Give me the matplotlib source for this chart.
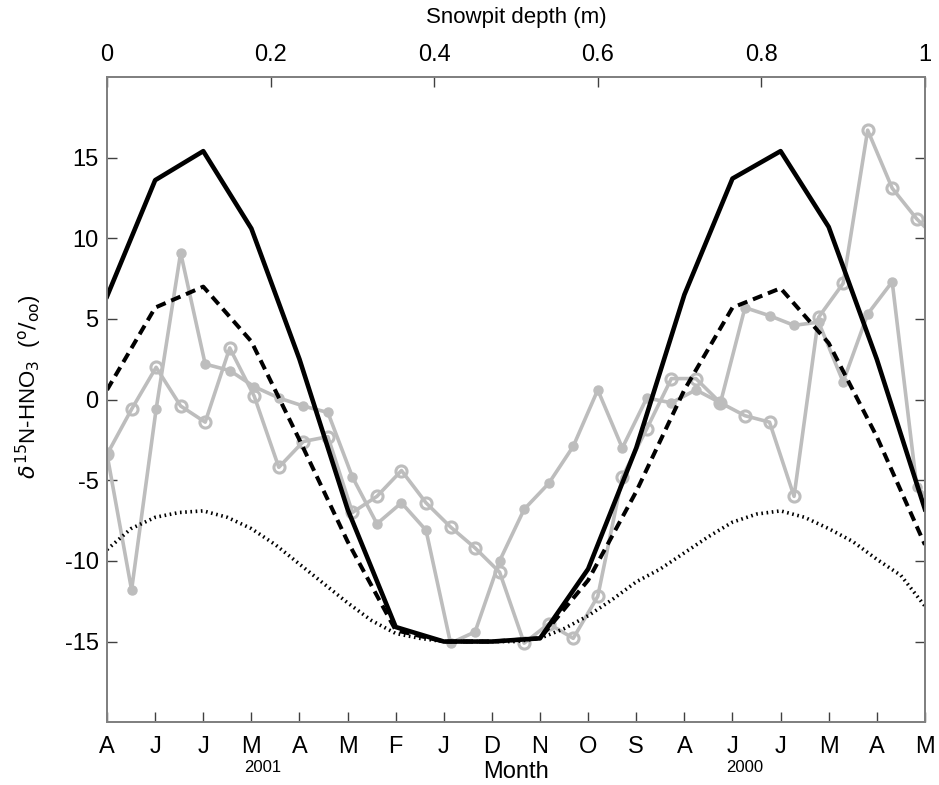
import numpy as np
import matplotlib
matplotlib.use("Agg")
import matplotlib.pyplot as plt

plt.rcParams['font.family'] = ['Liberation Sans', 'DejaVu Sans']

# ---- data ----
month_labels = ['A', 'J', 'J', 'M', 'A', 'M', 'F', 'J', 'D', 'N', 'O', 'S',
                'A', 'J', 'J', 'M', 'A', 'M']
model_solid = [6.4, 13.6, 15.4, 10.6, 2.5, -6.8, -14.1, -15.0, -15.0, -14.8,
               -10.5, -3.0, 6.5, 13.7, 15.4, 10.7, 2.5, -6.8]
model_dashed = [0.6, 5.7, 7.0, 3.6, -2.5, -8.8, -14.3, -15.0, -15.0, -14.8,
                -11.2, -5.7, 0.6, 5.7, 6.9, 3.5, -2.3, -9.0]
model_dotted = [-9.3, -8.0, -7.3, -7.0, -6.9, -7.3, -8.0, -9.0, -10.2, -11.4,
                -12.6, -13.7, -14.5, -14.8, -15.0, -15.0, -15.0, -15.0, -14.8,
                -14.2, -13.4, -12.4, -11.3, -10.5, -9.5, -8.5, -7.6, -7.1,
                -6.9, -7.3, -8.0, -8.8, -9.9, -10.9, -12.8]

depth = [0.00, 0.03, 0.06, 0.09, 0.12, 0.15, 0.18, 0.21, 0.24, 0.27, 0.30,
         0.33, 0.36, 0.39, 0.42, 0.45, 0.48, 0.51, 0.54, 0.57, 0.60, 0.63,
         0.66, 0.69, 0.72, 0.75, 0.78, 0.81, 0.84, 0.87, 0.90, 0.93, 0.96,
         0.99, 1.02]
pit_open = [-3.4, -0.6, 2.0, -0.4, -1.4, 3.2, 0.2, -4.2, -2.6, -2.3, -7.0,
            -6.0, -4.4, -6.4, -7.9, -9.2, -10.7, -15.1, -13.9, -14.8, -12.2,
            -4.8, -1.8, 1.3, 1.3, -0.2, -1.0, -1.4, -6.0, 5.1, 7.2, 16.7,
            13.1, 11.2, 9.7]
pit_filled = [-3.4, -11.8, -0.6, 9.1, 2.2, 1.8, 0.8, 0.1, -0.4, -0.8, -4.8,
              -7.7, -6.4, -8.1, -15.1, -14.4, -10.0, -6.8, -5.2, -2.9, 0.6,
              -3.0, 0.1, -0.2, 0.6, -0.2, 5.7, 5.2, 4.6, 4.8, 1.1, 5.3, 7.3,
              -5.4, -7.0]

y_ticks = [-15, -10, -5, 0, 5, 10, 15]
top_ticks = [0, 0.2, 0.4, 0.6, 0.8, 1.0]
top_labels = ['0', '0.2', '0.4', '0.6', '0.8', '1']

# ---- figure ----
fig = plt.figure(figsize=(9.39, 7.85), dpi=100)
ax = fig.add_axes([0.114, 0.080, 0.871, 0.822])

month_pos = np.linspace(0, 1, len(month_labels))
half_pos = np.linspace(0, 1, len(model_dotted))

gray = '#bdbdbd'
ax.plot(depth, pit_filled, '-o', color=gray, lw=2.6, ms=6.5, mfc=gray,
        mec=gray, zorder=2)
ax.plot(depth, pit_open, '-o', color=gray, lw=2.6, ms=8, mfc='none',
        mec=gray, mew=2.2, zorder=2)

ax.plot(half_pos, model_dotted, color='black', lw=2.6,
        ls=(0, (0.45, 1.0)), zorder=3)
ax.plot(month_pos, model_dashed, color='black', lw=2.9,
        ls=(0, (2.5, 1.5)), zorder=4)
ax.plot(month_pos, model_solid, color='black', lw=3.3, zorder=5)

ax.set_xlim(0, 1)
ax.set_ylim(-20, 20)
ax.set_yticks(y_ticks)
ax.set_yticklabels([str(v) for v in y_ticks], fontsize=17)
ax.set_xticks(month_pos)
ax.set_xticklabels(month_labels, fontsize=17)
ax.tick_params(axis='both', direction='in', length=7, width=1.0,
               color='#404040', right=True)
ax.tick_params(axis='x', pad=10)
ax.tick_params(axis='y', pad=6)

for sp in ax.spines.values():
    sp.set_color('#808080')
    sp.set_linewidth(1.3)

axt = ax.twiny()
axt.set_xlim(0, 1)
axt.set_xticks(top_ticks)
axt.set_xticklabels(top_labels, fontsize=17)
axt.tick_params(axis='x', direction='in', length=7, width=1.0,
                color='#404040', pad=8)
axt.set_xlabel('Snowpit depth (m)', fontsize=16, labelpad=15)
for sp in axt.spines.values():
    sp.set_color('#808080')
    sp.set_linewidth(1.3)

ax.set_ylabel(r'$\delta^{15}$N-HNO$_3$  ($^{\mathrm{o}}/_{\mathrm{oo}}$)',
              fontsize=16)
ax.yaxis.set_label_coords(-0.077, 0.52)

# year annotations and month label
fig.text(263 / 939, 1 - 767 / 785, '2001', fontsize=12, ha='center',
         va='center')
fig.text(745 / 939, 1 - 767 / 785, '2000', fontsize=12, ha='center',
         va='center')
fig.text(516 / 939, 1 - 772 / 785, 'Month', fontsize=17, ha='center',
         va='center')

fig.savefig('out.png', dpi=100)
